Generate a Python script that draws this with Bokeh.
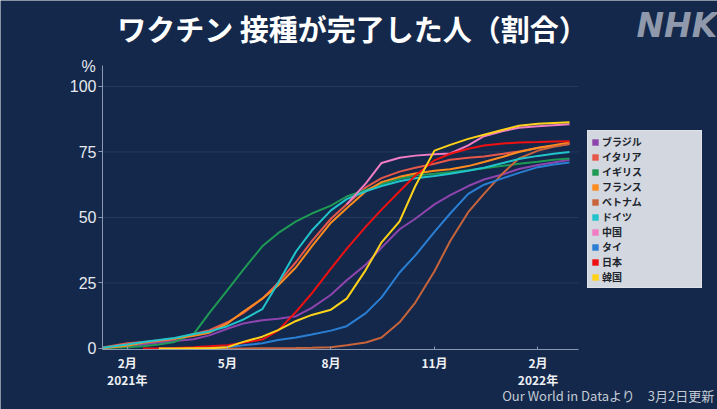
from datetime import datetime, timedelta
from bokeh.plotting import figure
from bokeh.models import Range1d, FixedTicker, Legend, LegendItem, Label
from bokeh.embed import file_html
from bokeh.resources import INLINE

# ---------------- data ----------------
dates = ["2021-01-10", "2021-02-01", "2021-02-15", "2021-03-01", "2021-03-15", "2021-04-01",
         "2021-04-15", "2021-05-01", "2021-05-15", "2021-06-01", "2021-06-15", "2021-07-01",
         "2021-07-15", "2021-08-01", "2021-08-15", "2021-09-01", "2021-09-15", "2021-10-01",
         "2021-10-15", "2021-11-01", "2021-11-15", "2021-12-01", "2021-12-15", "2022-01-01",
         "2022-01-15", "2022-02-01", "2022-02-15", "2022-03-01"]

countries = ["ブラジル", "イタリア", "イギリス", "フランス", "ベトナム", "ドイツ", "中国", "タイ", "日本", "韓国"]
colors = ["#8e44ad", "#e8584a", "#1e9a55", "#ff8c1f", "#c8643c", "#22c4cc", "#f07cc4", "#2a7fd4", "#ee1111", "#ffd21a"]

brazil = [None, 0.3, 1.5, 2.3, 2.8, 3.5, 5.0, 7.5, 9.5, 10.8, 11.3, 12.3, 15.5, 20.5, 26.0, 32.0,
          38.5, 45.5, 49.5, 55.0, 58.5, 62.0, 64.5, 66.5, 68.5, 70.0, 71.0, 72.0]
italy = [0.4, 2.0, 2.5, 2.8, 3.5, 5.5, 7.0, 10.0, 13.5, 19.0, 25.0, 33.0, 41.0, 49.5, 55.0, 61.5,
         65.0, 67.5, 69.0, 70.5, 72.0, 72.8, 73.3, 74.3, 75.2, 76.5, 77.3, 78.0]
uk = [0.2, 0.5, 0.8, 1.5, 2.5, 5.5, 13.6, 22.3, 30.0, 39.0, 44.0, 48.5, 51.5, 54.5, 58.0, 60.5,
      62.8, 64.8, 66.0, 66.7, 67.3, 68.0, 68.8, 69.7, 70.5, 71.3, 72.0, 72.5]
france = [0.1, 1.0, 2.2, 3.0, 3.8, 4.8, 6.0, 9.5, 14.0, 19.0, 24.0, 31.0, 39.0, 48.0, 53.5, 60.0,
          63.5, 65.5, 66.8, 67.8, 68.4, 69.6, 71.2, 73.2, 75.0, 76.6, 77.6, 78.6]
vietnam = [None, None, None, None, 0.0, 0.0, 0.0, 0.01, 0.02, 0.05, 0.1, 0.2, 0.3, 0.5, 1.2, 2.3,
           4.2, 10.0, 17.5, 29.5, 41.0, 52.0, 59.0, 67.0, 72.5, 75.5, 77.0, 78.0]
germany = [0.3, 1.5, 2.5, 3.2, 4.0, 5.5, 6.5, 8.5, 11.0, 15.0, 25.0, 37.0, 45.0, 52.7, 57.0, 60.0,
           62.0, 63.8, 65.0, 65.8, 66.7, 67.8, 69.0, 70.8, 72.3, 73.5, 74.3, 75.0]
china = [None, None, None, None, None, None, None, None, None, None, None, None, None, None, 55.0, 63.0,
         70.8, 72.8, 73.6, 74.1, 74.4, 77.5, 81.0, 83.0, 84.2, 84.8, 85.2, 85.6]
thailand = [None, None, None, 0.0, 0.0, 0.05, 0.1, 0.6, 1.2, 2.0, 3.2, 4.2, 5.3, 6.8, 8.5, 13.5,
            19.5, 29.0, 35.5, 44.5, 51.5, 59.0, 62.5, 65.0, 67.0, 69.2, 70.2, 71.0]
japan = [None, None, 0.0, 0.05, 0.2, 0.5, 0.8, 1.2, 2.2, 3.4, 6.8, 14.0, 21.0, 30.5, 38.0, 46.5,
         53.0, 60.0, 66.0, 71.8, 74.3, 76.2, 77.5, 78.2, 78.6, 78.8, 79.0, 79.1]
korea = [None, None, None, 0.0, 0.0, 0.05, 0.1, 0.5, 2.5, 4.5, 7.0, 10.5, 12.8, 14.8, 19.0, 30.0,
         40.5, 48.5, 62.0, 75.5, 77.7, 80.0, 81.6, 83.5, 85.0, 85.8, 86.1, 86.3]

series = [brazil, italy, uk, france, vietnam, germany, china, thailand, japan, korea]

y_ticks = [0, 25, 50, 75, 100]
grid_ticks = [25, 50, 75, 100]
x_tick_dates = ["2021-02-01", "2021-05-01", "2021-08-01", "2021-11-01", "2022-02-01"]
x_tick_labels = ["2月\n2021年", "5月", "8月", "11月", "2月\n2022年"]

title_text = "ワクチン 接種が完了した人（割合）"
source_text = "Our World in Dataより　3月2日更新"

# ---------------- layout constants ----------------
W, H = 717, 409
BG = "#13284a"
JP = "Noto Sans CJK JP"
AX_START, AX_END = datetime(2021, 1, 10), datetime(2022, 3, 9)   # visible axis span
Y0, Y1 = -0.4, 108.0                                               # visible value span
FL, FR, FT, FB = 102, 578, 65, 349                                 # axis box in pixels

px_day = (FR - FL) / (AX_END - AX_START).days
px_unit = (FB - FT) / (Y1 - Y0)
x_start = AX_START - timedelta(days=FL / px_day)
x_end = AX_END + timedelta(days=(W - FR) / px_day)
y_start = Y0 - (H - FB) / px_unit
y_end = Y1 + FT / px_unit


def to_dt(s):
    return datetime.strptime(s, "%Y-%m-%d")


def to_ms(d):
    return (d - datetime(1970, 1, 1)).total_seconds() * 1000.0


p = figure(width=W, height=H, output_backend="svg", toolbar_location=None,
           x_axis_type="datetime",
           x_range=Range1d(x_start, x_end), y_range=Range1d(y_start, y_end),
           min_border=0)
p.background_fill_color = BG
p.border_fill_color = BG
p.outline_line_color = None
p.xgrid.visible = False
p.ygrid.visible = False

# horizontal grid lines within the axis box
p.segment(x0=[AX_START] * len(grid_ticks), x1=[AX_END] * len(grid_ticks),
          y0=grid_ticks, y1=grid_ticks, line_color="#263b5e", line_width=1)

# axes placed inside the frame
p.yaxis.fixed_location = to_ms(AX_START)
p.yaxis.bounds = (Y0, Y1)
p.yaxis.ticker = FixedTicker(ticks=y_ticks)
p.yaxis.axis_line_color = "#8a98b2"
p.yaxis.major_tick_line_color = "#8a98b2"
p.yaxis.major_tick_out = 4
p.yaxis.major_tick_in = 0
p.yaxis.minor_tick_line_color = None
p.yaxis.major_label_text_color = "#e6e9ef"
p.yaxis.major_label_text_font = "Liberation Sans"
p.yaxis.major_label_text_font_size = "16px"
p.yaxis.major_label_standoff = 2

xt = [to_ms(to_dt(d)) for d in x_tick_dates]
p.xaxis.fixed_location = Y0
p.xaxis.bounds = (AX_START, AX_END)
p.xaxis.ticker = FixedTicker(ticks=xt)
p.xaxis.major_label_overrides = {t: l for t, l in zip(xt, x_tick_labels)}
p.xaxis.axis_line_color = "#8a98b2"
p.xaxis.major_tick_line_color = "#8a98b2"
p.xaxis.major_tick_out = 0
p.xaxis.major_tick_in = 3
p.xaxis.minor_tick_line_color = None
p.xaxis.major_label_text_color = "#eef0f4"
p.xaxis.major_label_text_font = JP
p.xaxis.major_label_text_font_size = "12px"
p.xaxis.major_label_text_font_style = "bold"
p.xaxis.major_label_text_line_height = 1.0
p.xaxis.major_label_standoff = 4

# lines
for name, vals, col in zip(countries, series, colors):
    xs = [to_dt(d) for d, v in zip(dates, vals) if v is not None]
    ys = [v for v in vals if v is not None]
    p.line(xs, ys, line_color=col, line_width=2)

# legend with square swatches (swatch renderers hold no drawable point)
nan = float("nan")
items = []
for name, col in zip(countries, colors):
    r = p.quad(left=[nan], right=[nan], top=[nan], bottom=[nan], fill_color=col, line_color=None)
    items.append(LegendItem(label=name, renderers=[r]))
legend = Legend(items=items, location=(587, H - 288), orientation="vertical")
legend.background_fill_color = "#d3d7df"
legend.background_fill_alpha = 1.0
legend.border_line_color = "#eceef2"
legend.border_line_width = 1
legend.label_text_font = "'Liberation Sans', 'Noto Sans CJK JP'"
legend.label_text_font_size = "10px"
legend.label_text_font_style = "bold"
legend.label_text_color = "#20242c"
legend.glyph_width = 8
legend.glyph_height = 8
legend.label_height = 12
legend.label_width = 96
legend.label_standoff = 3
legend.spacing = 0
legend.padding = 3
legend.margin = 0
p.add_layout(legend, "center")

# texts
p.add_layout(Label(x=352, y=H - 27, x_units="screen", y_units="screen", text=title_text,
                   text_align="center", text_baseline="middle", text_color="white",
                   text_font=JP, text_font_size="29px", text_font_style="bold"))
p.add_layout(Label(x=636, y=H - 25, x_units="screen", y_units="screen", text="NHK",
                   text_align="left", text_baseline="middle", text_color="#8f99ab",
                   text_font="DejaVu Sans", text_font_size="33px", text_font_style="bold italic"))
p.add_layout(Label(x=88, y=H - 66, x_units="screen", y_units="screen", text="%",
                   text_align="center", text_baseline="middle", text_color="#e6e9ef",
                   text_font="Liberation Sans", text_font_size="16px"))
p.add_layout(Label(x=714, y=14, x_units="screen", y_units="screen", text=source_text,
                   text_align="right", text_baseline="middle", text_color="#c4cad4",
                   text_font=JP, text_font_size="13px"))

open("out.html", "w").write(file_html(p, INLINE))
